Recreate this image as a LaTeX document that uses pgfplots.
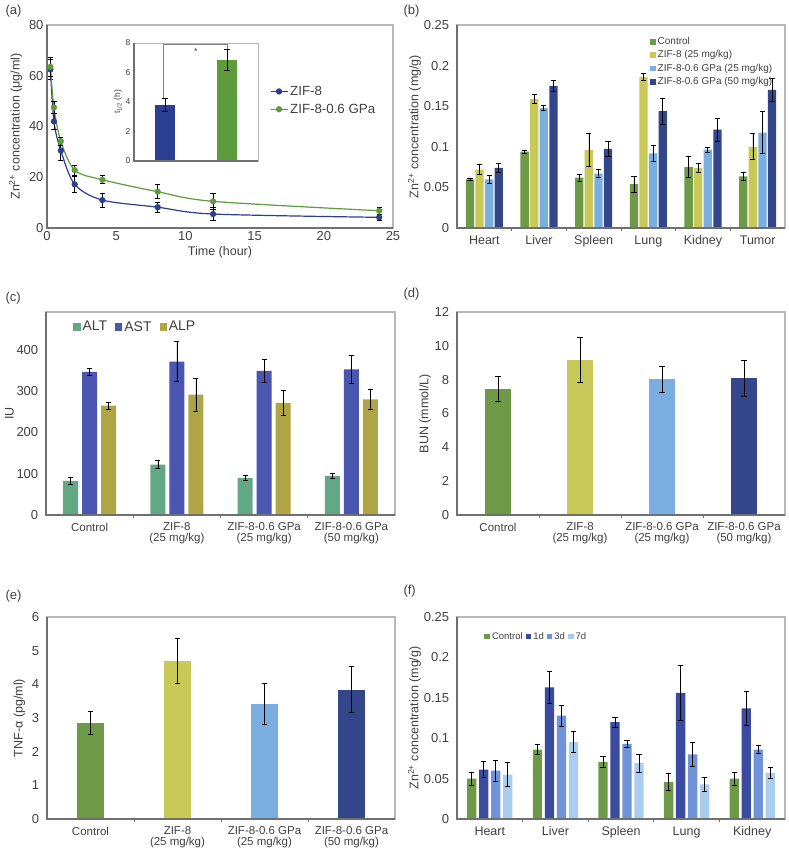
\documentclass[border=0pt]{standalone}
\usepackage{pgfplots}
\pgfplotsset{compat=1.18}
\usepackage{fontspec}
\setmainfont{Liberation Sans}
\definecolor{txt}{HTML}{404040}
\definecolor{dgray}{HTML}{707070}
\definecolor{lgray}{HTML}{B8B8B8}
\definecolor{aBlue}{HTML}{2C3E8F}
\definecolor{aGreen}{HTML}{5E9B3C}
\definecolor{cC}{HTML}{6E9A48}
\definecolor{cZ}{HTML}{C9C95A}
\definecolor{cLB}{HTML}{7AAEE0}
\definecolor{cDB}{HTML}{34468A}
\definecolor{cALT}{HTML}{62A886}
\definecolor{cAST}{HTML}{4A56B0}
\definecolor{cALP}{HTML}{AFA544}
\definecolor{f1}{HTML}{3A4BA0}
\definecolor{f3}{HTML}{6E93D8}
\definecolor{f7}{HTML}{A9CDEF}
\pgfplotsset{
  myax/.style={
    scale only axis, anchor=south west,
    axis background/.style={fill=white},
    axis line style={draw=lgray, line width=1.2pt},
    clip=false,
    tick label style={font=\fontsize{13}{14}\selectfont, text=txt},
    label style={font=\fontsize{12.5}{14}\selectfont, text=txt},
    /pgf/number format/assume math mode=true,
    ytick style={draw=none},
    scaled y ticks=false,
    yticklabel style={/pgf/number format/fixed,/pgf/number format/precision=2},
    error bars/error bar style={black, line width=0.7pt},
    error bars/error mark options={rotate=90, mark size=2.6pt, black, line width=0.7pt},
    after end axis/.code={\draw[dgray, line width=2.2pt] (rel axis cs:0,1) -- (rel axis cs:0,0) -- (rel axis cs:1,0);},
  },
  catax/.style={
    myax,
    major x tick style={draw=none},
    minor x tick style={draw=dgray, line width=0.8pt},
    minor tick length=3pt, tick align=outside, xtick pos=left,
    xticklabel style={font=\fontsize{12.5}{12.5}\selectfont, align=center},
  },
  sq/.style={legend image code/.code={\fill[##1] (0pt,-2.8pt) rectangle (5.6pt,2.8pt);}},
}
\begin{document}
\begin{tikzpicture}
\useasboundingbox (0,0) rectangle (789pt,855pt);
\tikzset{plab/.style={anchor=north west, font=\fontsize{13}{14}\selectfont, text=txt}}
\node[plab] at (2pt,853pt) {(a)};
\node[plab] at (400pt,853pt) {(b)};
\node[plab] at (2pt,566pt) {(c)};
\node[plab] at (400pt,570pt) {(d)};
\node[plab] at (2pt,268pt) {(e)};
\node[plab] at (400pt,273pt) {(f)};

% ---------------- (a)
\begin{axis}[myax, at={(47pt,627pt)}, width=346pt, height=203pt,
  xmin=0, xmax=25, ymin=0, ymax=80, xtick={0,5,...,25}, ytick={0,20,...,80},
  xtick style={draw=none},
  xlabel={Time (hour)}, ylabel={Zn\textsuperscript{2+} concentration (μg/ml)},
  xlabel style={yshift=1pt},
  legend style={at={(rel axis cs:0.635,0.72)}, anchor=north west, draw=none, fill=none,
    font=\fontsize{13.3}{15}\selectfont, text=txt, row sep=3pt},
  legend cell align=left]
\addplot[aBlue, line width=1.2pt, smooth, tension=0.5, mark=*, mark size=2.5pt,
  error bars/.cd, y dir=both, y explicit] coordinates {
  (0.25,62.5) +- (0,4) (0.5,42) +- (0,3) (1,30.5) +- (0,4) (2,17.2) +- (0,3)
  (4,11) +- (0,2.7) (8,8.2) +- (0,2) (12,5.5) +- (0,2.5) (24,4.2) +- (0,1)};
\addlegendentry{ZIF-8}
\addplot[aGreen, line width=1.2pt, smooth, tension=0.5, mark=*, mark size=2.5pt,
  error bars/.cd, y dir=both, y explicit] coordinates {
  (0.25,63.5) +- (0,3.7) (0.5,47.5) +- (0,2.3) (1,34.2) +- (0,1.5) (2,22.8) +- (0,2)
  (4,19) +- (0,1.6) (8,14.3) +- (0,2.8) (12,10.5) +- (0,3.3) (24,6.8) +- (0,1.3)};
\addlegendentry{ZIF-8-0.6 GPa}
\end{axis}

% inset
\begin{axis}[myax, at={(134pt,694pt)}, width=124pt, height=118pt,
  xmin=0.5, xmax=2.5, ymin=0, ymax=8, ytick={0,2,...,8}, xtick=\empty,
  tick label style={font=\fontsize{8.5}{9}\selectfont, text=txt},
  label style={font=\fontsize{8.5}{9}\selectfont, text=txt},
  ylabel={t\textsubscript{1/2} (h)}, ylabel style={yshift=-3pt},
  axis line style={draw=lgray, line width=0.9pt},
  after end axis/.code={\draw[dgray, line width=1.2pt] (rel axis cs:0,1) -- (rel axis cs:0,0) -- (rel axis cs:1,0);}]
\addplot[ybar, bar width=20pt, bar shift=0pt, fill=aBlue, draw=none,
  error bars/.cd, y dir=both, y explicit] coordinates {(1,3.8) +- (0,0.45)};
\addplot[ybar, bar width=20pt, bar shift=0pt, fill=aGreen, draw=none,
  error bars/.cd, y dir=both, y explicit] coordinates {(2,6.85) +- (0,0.7)};
\draw[gray, line width=0.6pt] (axis cs:0.98,4.3) -- (axis cs:0.98,7.88) -- (axis cs:2,7.88) -- (axis cs:2,7.6);
\node[font=\fontsize{9}{9}\selectfont, text=txt, anchor=north] at (axis cs:1.5,7.85) {*};
\end{axis}

% ---------------- (b)
\begin{axis}[catax, at={(457pt,627pt)}, width=328pt, height=203pt,
  ybar=1.3pt, bar width=8.3pt,
  xmin=-0.5, xmax=5.5, ymin=0, ymax=0.25, ytick={0,0.05,...,0.25},
  xtick={0,...,5}, minor xtick={0.5,1.5,...,4.5},
  xticklabels={Heart,Liver,Spleen,Lung,Kidney,Tumor},
  ylabel={Zn\textsuperscript{2+} concentration (mg/g)}, ylabel shift=-4pt,
  legend style={at={(rel axis cs:0.585,0.955)}, anchor=north west, draw=none, fill=none,
    font=\fontsize{10}{11}\selectfont, text=txt, row sep=0.6pt, inner sep=1pt},
  legend cell align=left, sq]
\addplot[fill=cC, draw=none, error bars/.cd, y dir=both, y explicit] coordinates {
  (0,0.060) +- (0,0.0015) (1,0.094) +- (0,0.002) (2,0.062) +- (0,0.004)
  (3,0.054) +- (0,0.010) (4,0.075) +- (0,0.013) (5,0.0635) +- (0,0.005)};
\addlegendentry{Control}
\addplot[fill=cZ, draw=none, error bars/.cd, y dir=both, y explicit] coordinates {
  (0,0.072) +- (0,0.006) (1,0.159) +- (0,0.005) (2,0.096) +- (0,0.020)
  (3,0.186) +- (0,0.004) (4,0.074) +- (0,0.006) (5,0.100) +- (0,0.016)};
\addlegendentry{ZIF-8 (25 mg/kg)}
\addplot[fill=cLB, draw=none, error bars/.cd, y dir=both, y explicit] coordinates {
  (0,0.060) +- (0,0.005) (1,0.148) +- (0,0.003) (2,0.067) +- (0,0.005)
  (3,0.092) +- (0,0.010) (4,0.0965) +- (0,0.003) (5,0.1175) +- (0,0.026)};
\addlegendentry{ZIF-8-0.6 GPa (25 mg/kg)}
\addplot[fill=cDB, draw=none, error bars/.cd, y dir=both, y explicit] coordinates {
  (0,0.074) +- (0,0.005) (1,0.175) +- (0,0.007) (2,0.0975) +- (0,0.009)
  (3,0.144) +- (0,0.016) (4,0.121) +- (0,0.014) (5,0.170) +- (0,0.014)};
\addlegendentry{ZIF-8-0.6 GPa (50 mg/kg)}
\end{axis}

% ---------------- (c)
\begin{axis}[catax, at={(46pt,340pt)}, width=349pt, height=203pt,
  ybar=4pt, bar width=15pt,
  xmin=-0.5, xmax=3.5, ymin=0, ymax=492, ytick={0,100,...,400},
  xtick={0,...,3}, minor xtick={0.5,1.5,2.5},
  xticklabels={Control,{ZIF-8\\(25 mg/kg)},{ZIF-8-0.6 GPa\\(25 mg/kg)},{ZIF-8-0.6 GPa\\(50 mg/kg)}},
  xticklabel style={font=\fontsize{11.5}{11}\selectfont},
  ylabel={IU}, ylabel shift=-4pt,
  legend style={at={(rel axis cs:0.075,0.97)}, anchor=north west, draw=none, fill=none,
    font=\fontsize{14}{15}\selectfont, text=txt, inner sep=1pt,
    /tikz/every even column/.append style={column sep=6pt}},
  legend columns=3,
  legend image code/.code={\fill[#1] (0pt,-3.6pt) rectangle (7.2pt,3.6pt);}]
\addplot[fill=cALT, draw=none, error bars/.cd, y dir=both, y explicit] coordinates {
  (0,83) +- (0,8) (1,122) +- (0,10) (2,90) +- (0,7) (3,95) +- (0,7)};
\addlegendentry{ALT}
\addplot[fill=cAST, draw=none, error bars/.cd, y dir=both, y explicit] coordinates {
  (0,347) +- (0,8) (1,372) +- (0,48) (2,349) +- (0,28) (3,353) +- (0,35)};
\addlegendentry{AST}
\addplot[fill=cALP, draw=none, error bars/.cd, y dir=both, y explicit] coordinates {
  (0,265) +- (0,8) (1,292) +- (0,40) (2,272) +- (0,30) (3,280) +- (0,24)};
\addlegendentry{ALP}
\end{axis}

% ---------------- (d)
\begin{axis}[catax, at={(457pt,340pt)}, width=328pt, height=203pt,
  xmin=-0.5, xmax=3.5, ymin=0, ymax=12, ytick={0,2,...,12},
  xtick={0,...,3}, minor xtick={0.5,1.5,2.5},
  xticklabels={Control,{ZIF-8\\(25 mg/kg)},{ZIF-8-0.6 GPa\\(25 mg/kg)},{ZIF-8-0.6 GPa\\(50 mg/kg)}},
  xticklabel style={font=\fontsize{11.5}{11}\selectfont},
  ylabel={BUN (mmol/L)}, ylabel shift=-3pt]
\addplot[ybar, bar width=26pt, bar shift=0pt, fill=cC, draw=none, error bars/.cd, y dir=both, y explicit]
  coordinates {(0,7.45) +- (0,0.75)};
\addplot[ybar, bar width=26pt, bar shift=0pt, fill=cZ, draw=none, error bars/.cd, y dir=both, y explicit]
  coordinates {(1,9.17) +- (0,1.35)};
\addplot[ybar, bar width=26pt, bar shift=0pt, fill=cLB, draw=none, error bars/.cd, y dir=both, y explicit]
  coordinates {(2,8.02) +- (0,0.75)};
\addplot[ybar, bar width=26pt, bar shift=0pt, fill=cDB, draw=none, error bars/.cd, y dir=both, y explicit]
  coordinates {(3,8.08) +- (0,1.05)};
\end{axis}

% ---------------- (e)
\begin{axis}[catax, at={(47pt,36pt)}, width=348pt, height=202pt,
  xmin=-0.5, xmax=3.5, ymin=0, ymax=6, ytick={0,1,...,6},
  xtick={0,...,3}, minor xtick={0.5,1.5,2.5},
  xticklabels={Control,{ZIF-8\\(25 mg/kg)},{ZIF-8-0.6 GPa\\(25 mg/kg)},{ZIF-8-0.6 GPa\\(50 mg/kg)}},
  xticklabel style={font=\fontsize{11.5}{11}\selectfont},
  ylabel={TNF-α (pg/ml)}]
\addplot[ybar, bar width=27pt, bar shift=0pt, fill=cC, draw=none, error bars/.cd, y dir=both, y explicit]
  coordinates {(0,2.85) +- (0,0.34)};
\addplot[ybar, bar width=27pt, bar shift=0pt, fill=cZ, draw=none, error bars/.cd, y dir=both, y explicit]
  coordinates {(1,4.70) +- (0,0.68)};
\addplot[ybar, bar width=27pt, bar shift=0pt, fill=cLB, draw=none, error bars/.cd, y dir=both, y explicit]
  coordinates {(2,3.42) +- (0,0.6)};
\addplot[ybar, bar width=27pt, bar shift=0pt, fill=cDB, draw=none, error bars/.cd, y dir=both, y explicit]
  coordinates {(3,3.84) +- (0,0.68)};
\end{axis}

% ---------------- (f)
\begin{axis}[catax, at={(457pt,36pt)}, width=328pt, height=202pt,
  ybar=2.7pt, bar width=9.3pt,
  xmin=-0.5, xmax=4.5, ymin=0, ymax=0.25, ytick={0,0.05,...,0.25},
  xtick={0,...,4}, minor xtick={0.5,1.5,...,3.5},
  xticklabels={Heart,Liver,Spleen,Lung,Kidney},
  ylabel={Zn\textsuperscript{2+} concentration (mg/g)}, ylabel shift=-4pt,
  legend style={at={(rel axis cs:0.08,0.94)}, anchor=north west, draw=none, fill=none,
    font=\fontsize{9.5}{10}\selectfont, text=txt, inner sep=1pt,
    /tikz/every even column/.append style={column sep=1pt}},
  legend columns=4, sq]
\addplot[fill=cC, draw=none, error bars/.cd, y dir=both, y explicit] coordinates {
  (0,0.050) +- (0,0.008) (1,0.086) +- (0,0.006) (2,0.0705) +- (0,0.007)
  (3,0.046) +- (0,0.011) (4,0.050) +- (0,0.008)};
\addlegendentry{Control}
\addplot[fill=f1, draw=none, error bars/.cd, y dir=both, y explicit] coordinates {
  (0,0.061) +- (0,0.010) (1,0.163) +- (0,0.020) (2,0.120) +- (0,0.006)
  (3,0.156) +- (0,0.034) (4,0.137) +- (0,0.021)};
\addlegendentry{1d}
\addplot[fill=f3, draw=none, error bars/.cd, y dir=both, y explicit] coordinates {
  (0,0.060) +- (0,0.013) (1,0.128) +- (0,0.013) (2,0.093) +- (0,0.004)
  (3,0.080) +- (0,0.015) (4,0.086) +- (0,0.005)};
\addlegendentry{3d}
\addplot[fill=f7, draw=none, error bars/.cd, y dir=both, y explicit] coordinates {
  (0,0.055) +- (0,0.015) (1,0.095) +- (0,0.013) (2,0.069) +- (0,0.011)
  (3,0.043) +- (0,0.009) (4,0.057) +- (0,0.007)};
\addlegendentry{7d}
\end{axis}
\end{tikzpicture}
\end{document}
